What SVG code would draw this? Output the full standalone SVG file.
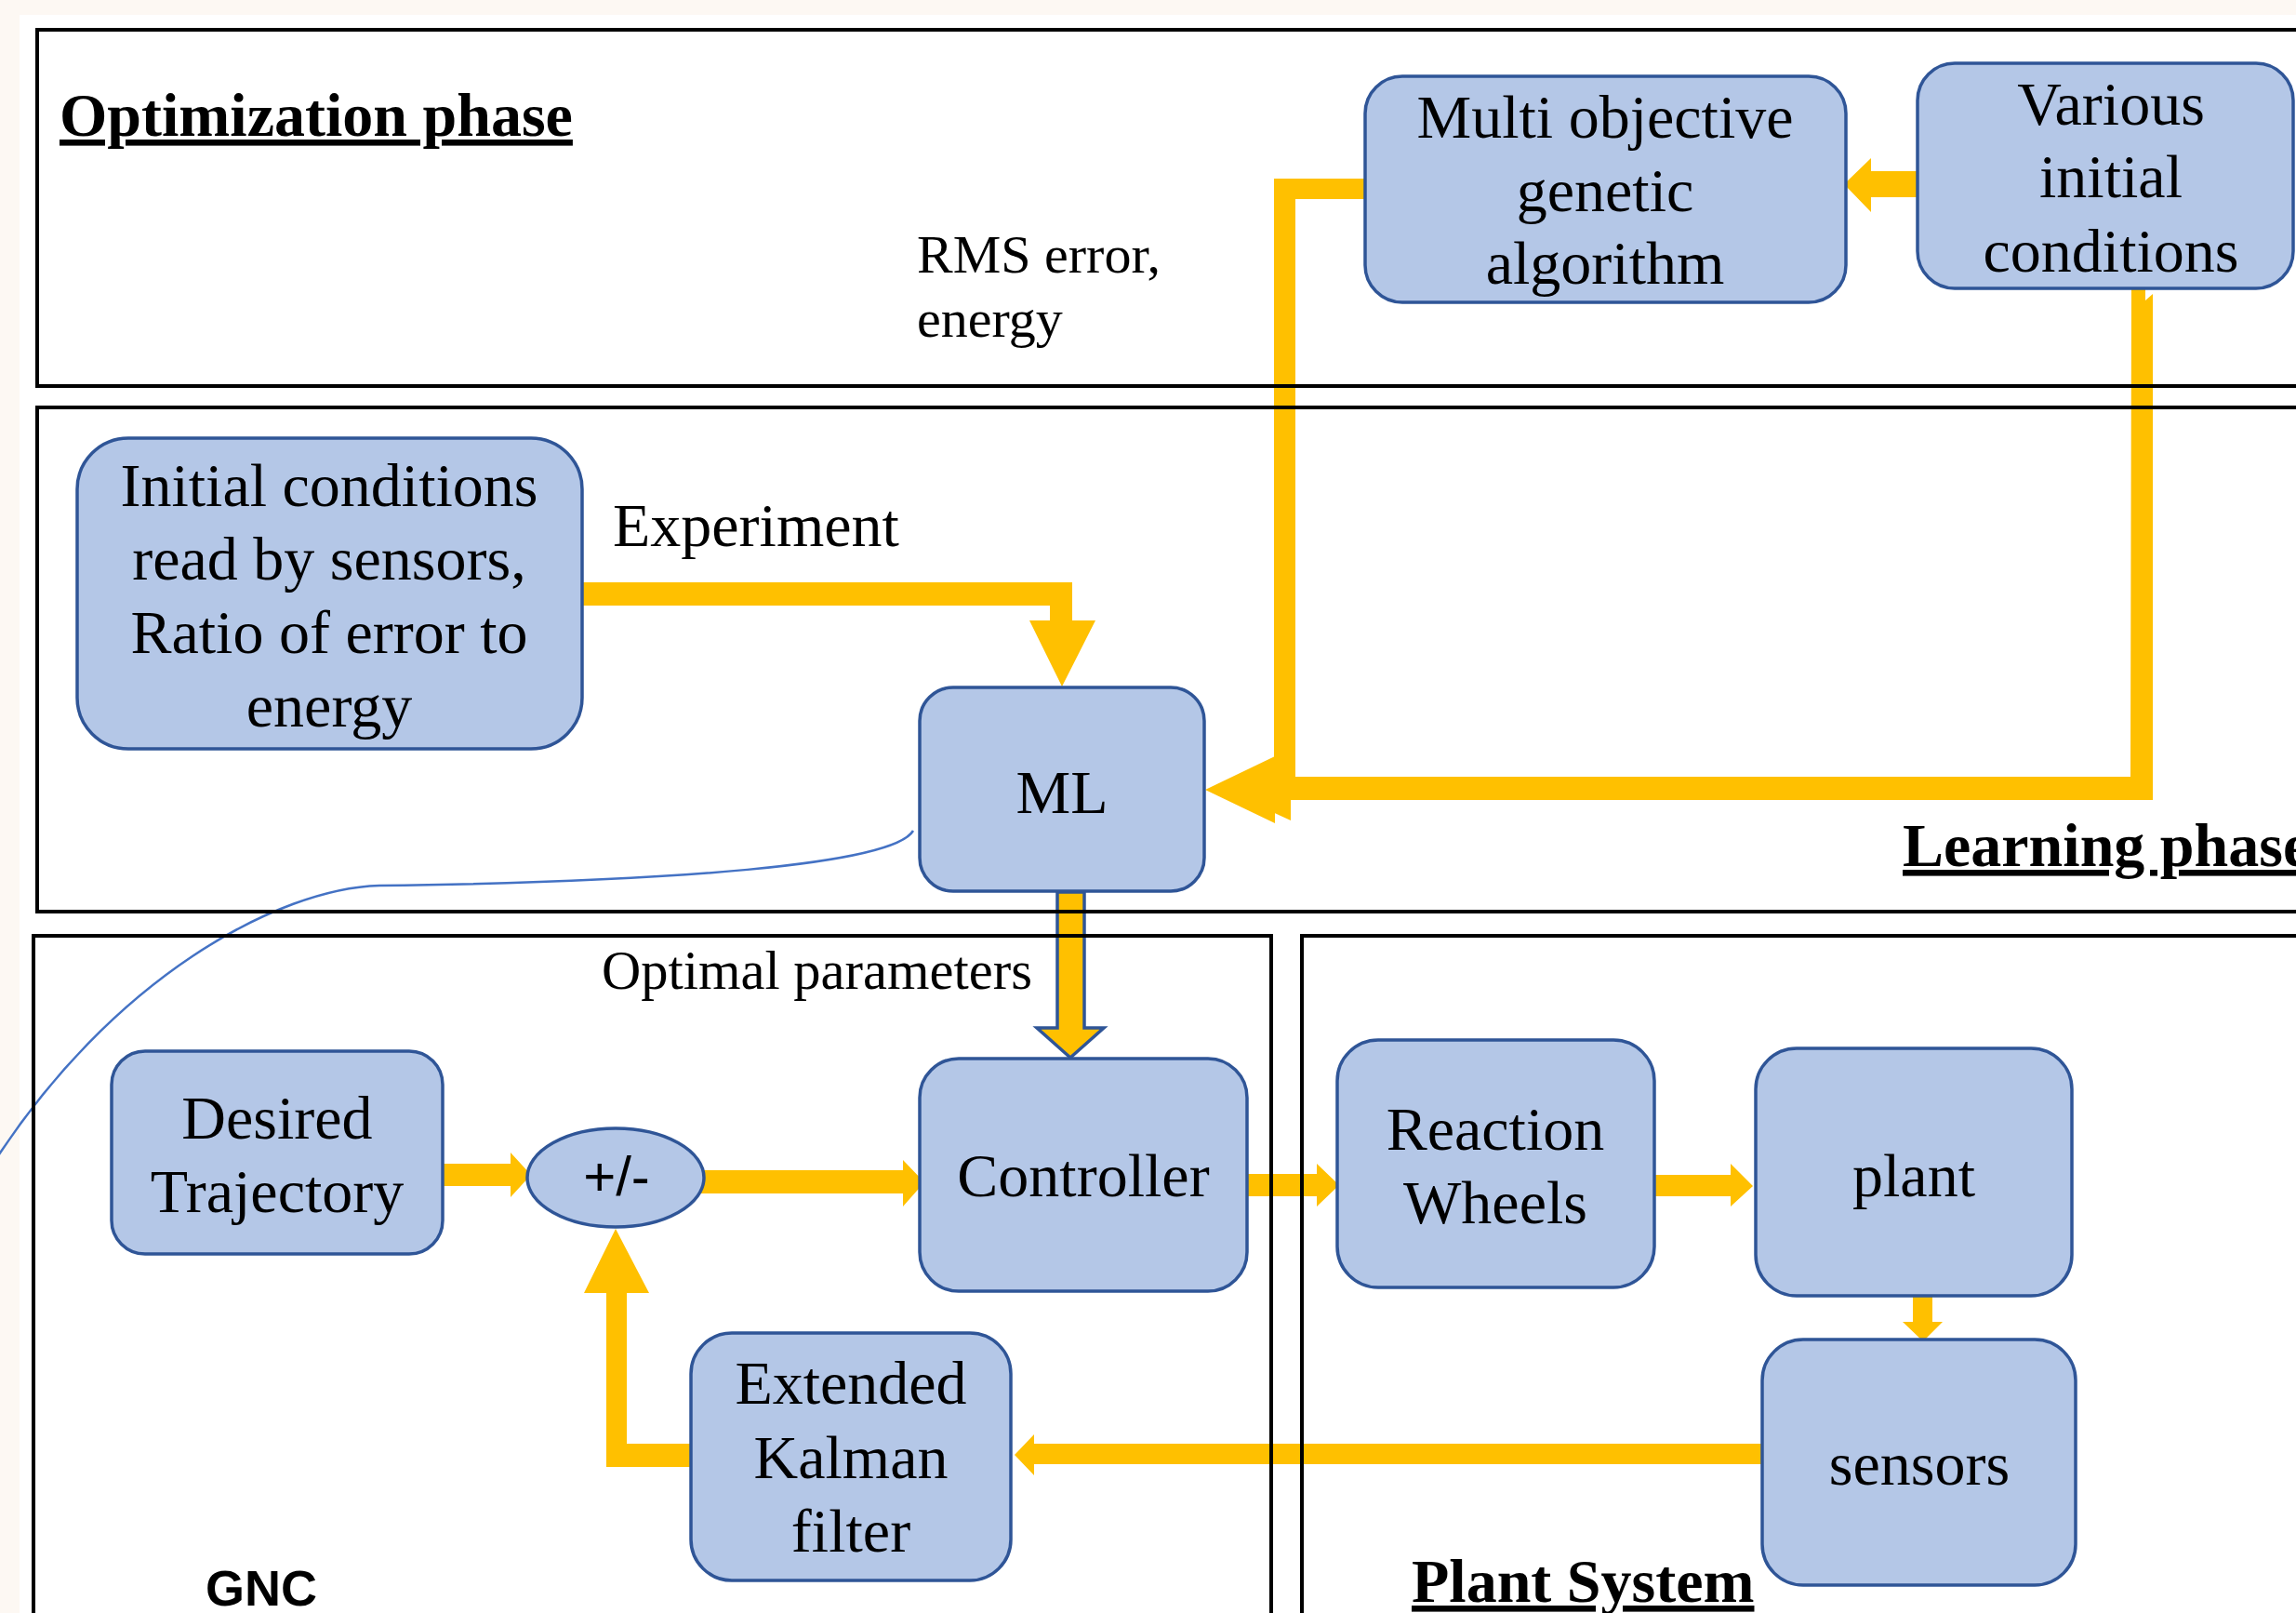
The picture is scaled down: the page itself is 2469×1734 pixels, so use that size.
<svg xmlns="http://www.w3.org/2000/svg" width="2469" height="1734" viewBox="0 0 2469 1734">
<style>
.node{fill:#b4c7e7;stroke:#2f5597;stroke-width:3.5}
.t{font-family:"Liberation Serif","Times New Roman",serif;font-size:66px;fill:#000;text-anchor:middle}
.lbl{font-family:"Liberation Serif","Times New Roman",serif;fill:#000}
.hdr{font-family:"Liberation Serif","Times New Roman",serif;font-size:66px;font-weight:bold;text-decoration:underline;fill:#000}
.frame{fill:none;stroke:#000;stroke-width:4}
.arr{fill:#ffc000;stroke:none}
</style>
<rect x="0" y="0" width="2469" height="1734" fill="#fdf8f3"/>
<rect x="21" y="16" width="2448" height="1718" fill="#ffffff"/>

<g id="connectors">
  <path class="arr" d="M2062,184 H2012 V170 L1983,198 L2012,228 V212 H2062 Z"/>
  <path class="arr" d="M1468,192 H1370 V860 H1393 V214 H1468 Z"/>
  <polygon class="arr" points="1296,849 1371,813 1371,885"/>
  <path class="arr" d="M2292,304 H2307 V323 L2315,316 V860 H1386 V835 H2291 Z"/>
  <polygon class="arr" points="1316,849 1388,816 1388,882"/>
  <path class="arr" d="M626,626 H1153 V667 H1178 L1142,738 L1107,667 H1129 V651 H626 Z"/>
  <path d="M1137,959 H1166 V1105 H1187 L1151,1137 L1115,1105 H1137 Z" fill="#ffc000" stroke="#2f5597" stroke-width="3.5" stroke-linejoin="miter"/>
  <path class="arr" d="M470,1251 H549 V1239 L571,1263 L549,1287 V1275 H470 Z"/>
  <path class="arr" d="M750,1258 H971 V1247 L994,1271 L971,1297 V1283 H750 Z"/>
  <path class="arr" d="M743,1552 H674 V1390 H698 L662,1321 L628,1390 H652 V1577 H743 Z"/>
  <path class="arr" d="M1895,1552 H1112 V1542 L1091,1564 L1112,1586 V1574 H1895 Z"/>
  <path class="arr" d="M1341,1262 H1416 V1251 L1440,1274 L1416,1297 V1286 H1341 Z"/>
  <path class="arr" d="M1779,1263 H1861 V1251 L1885,1275 L1861,1297 V1286 H1779 Z"/>
  <path class="arr" d="M2057,1393 V1421 H2046 L2068,1442 L2089,1421 H2078 V1393 Z"/>
  <path d="M982,893 C960,930 720,948 408,952 C300,955 120,1050 -10,1255" fill="none" stroke="#4472c4" stroke-width="2.5"/>
</g>

<g id="frames">
  <rect class="frame" x="40" y="32" width="2460" height="383"/>
  <rect class="frame" x="40" y="438" width="2460" height="542"/>
  <rect class="frame" x="36" y="1006" width="1331" height="760"/>
  <rect class="frame" x="1400" y="1006" width="1100" height="760"/>
</g>

<g id="labels">
  <text class="hdr" x="64" y="146">Optimization phase</text>
  <text class="lbl" font-size="58" x="986" y="293">RMS error,</text>
  <text class="lbl" font-size="58" x="986" y="362">energy</text>
  <text class="lbl" font-size="66" x="659" y="587">Experiment</text>
  <text class="hdr" x="2046" y="931">Learning phase</text>
  <text class="lbl" font-size="58.5" x="647" y="1063">Optimal parameters</text>
  <text x="221" y="1726" font-family="'Liberation Sans',Arial,sans-serif" font-size="54" font-weight="bold" fill="#000">GNC</text>
  <text class="hdr" x="1518" y="1722">Plant System</text>
</g>

<g id="node-multi">
  <rect class="node" x="1468" y="82" width="517" height="243" rx="40"/>
  <text class="t" x="1726" y="148">Multi objective</text>
  <text class="t" x="1726" y="227">genetic</text>
  <text class="t" x="1726" y="305">algorithm</text>
</g>
<g id="node-various">
  <rect class="node" x="2062" y="68" width="404" height="242" rx="40"/>
  <text class="t" x="2270" y="134">Various</text>
  <text class="t" x="2270" y="212">initial</text>
  <text class="t" x="2270" y="292">conditions</text>
</g>
<g id="node-initial">
  <rect class="node" x="83" y="471" width="543" height="334" rx="55"/>
  <text class="t" x="354" y="544">Initial conditions</text>
  <text class="t" x="354" y="623">read by sensors,</text>
  <text class="t" x="354" y="702">Ratio of error to</text>
  <text class="t" x="354" y="781">energy</text>
</g>
<g id="node-ml">
  <rect class="node" x="989" y="739" width="306" height="219" rx="36"/>
  <text class="t" x="1142" y="874">ML</text>
</g>
<g id="node-desired">
  <rect class="node" x="120" y="1130" width="356" height="218" rx="36"/>
  <text class="t" x="298" y="1224">Desired</text>
  <text class="t" x="298" y="1303">Trajectory</text>
</g>
<g id="node-sum">
  <ellipse class="node" cx="662" cy="1266" rx="95" ry="53"/>
  <text x="663" y="1285" font-family="'Liberation Sans',Arial,sans-serif" font-size="60" text-anchor="middle" fill="#000">+/-</text>
</g>
<g id="node-controller">
  <rect class="node" x="989" y="1138" width="352" height="250" rx="42"/>
  <text class="t" x="1165" y="1286">Controller</text>
</g>
<g id="node-ekf">
  <rect class="node" x="743" y="1433" width="344" height="266" rx="44"/>
  <text class="t" x="915" y="1509">Extended</text>
  <text class="t" x="915" y="1589">Kalman</text>
  <text class="t" x="915" y="1668">filter</text>
</g>
<g id="node-rw">
  <rect class="node" x="1438" y="1118" width="341" height="266" rx="44"/>
  <text class="t" x="1608" y="1236">Reaction</text>
  <text class="t" x="1608" y="1315">Wheels</text>
</g>
<g id="node-plant">
  <rect class="node" x="1888" y="1127" width="340" height="266" rx="44"/>
  <text class="t" x="2058" y="1286">plant</text>
</g>
<g id="node-sensors">
  <rect class="node" x="1895" y="1440" width="337" height="264" rx="44"/>
  <text class="t" x="2064" y="1596">sensors</text>
</g>
</svg>
